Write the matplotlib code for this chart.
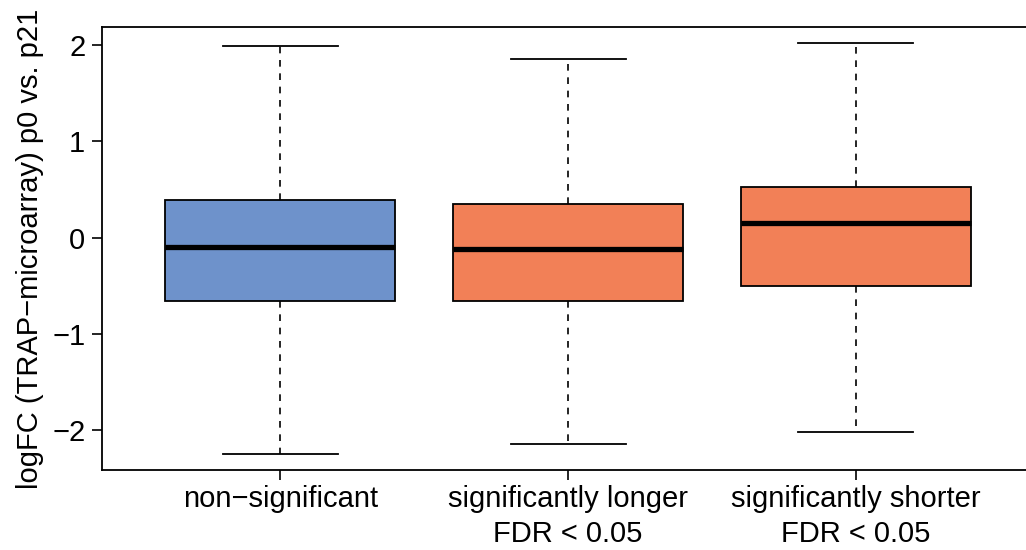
import matplotlib
matplotlib.use("Agg")
import matplotlib.pyplot as plt

# Group labels and five-number summaries of logFC per group
categories = ["non\u2212significant", "significantly longer\nFDR < 0.05", "significantly shorter\nFDR < 0.05"]
whisker_low = [-2.24, -2.14, -2.015]
q1 = [-0.655, -0.655, -0.50]
median = [-0.094, -0.114, 0.156]
q3 = [0.395, 0.353, 0.53]
whisker_high = [1.99, 1.85, 2.015]
box_colors = ["#6E92CB", "#F28057", "#F28057"]
y_ticks = [-2, -1, 0, 1, 2]

plt.rcParams["font.family"] = ["Liberation Sans", "DejaVu Sans"]
FS = 21

fig = plt.figure(figsize=(10.26, 5.5), dpi=100)
ax = fig.add_axes([0.0994, 0.1455, 1.008 - 0.0994, 0.951 - 0.1455])

stats = []
for i in range(len(categories)):
    stats.append(dict(whislo=whisker_low[i], q1=q1[i], med=median[i],
                      q3=q3[i], whishi=whisker_high[i], fliers=[]))

positions = list(range(1, len(categories) + 1))
bp = ax.bxp(stats, positions=positions, widths=0.8, patch_artist=True,
            showfliers=False, capwidths=0.4,
            boxprops=dict(linewidth=1.3, edgecolor="black"),
            medianprops=dict(color="black", linewidth=3.8, solid_capstyle="butt"),
            whiskerprops=dict(color="black", linewidth=1.2, linestyle=(0, (4, 4))),
            capprops=dict(color="black", linewidth=1.3))
for patch, c in zip(bp["boxes"], box_colors):
    patch.set_facecolor(c)

# R-style 4% axis extension
lo, hi = min(whisker_low), max(whisker_high)
pad = 0.04 * (hi - lo)
ax.set_ylim(lo - pad, hi + pad)
ax.set_xlim(0.5 - 0.12, len(categories) + 0.5 + 0.12)

ax.set_yticks(y_ticks)
ax.set_yticklabels([str(t).replace("-", "\u2212") for t in y_ticks])
ax.set_xticks(positions)
ax.set_xticklabels(categories)
ax.tick_params(axis="both", labelsize=FS, length=7, width=1.2, color="black")
ax.tick_params(axis="y", pad=5)
ax.tick_params(axis="x", pad=4)
for lbl in ax.get_xticklabels():
    lbl.set_linespacing(1.3)
for s in ax.spines.values():
    s.set_linewidth(1.3)
ax.spines["right"].set_visible(False)

ax.set_ylabel("logFC (TRAP\u2212microarray) p0 vs. p21", fontsize=FS, labelpad=6)

fig.savefig("out.png", dpi=100)
